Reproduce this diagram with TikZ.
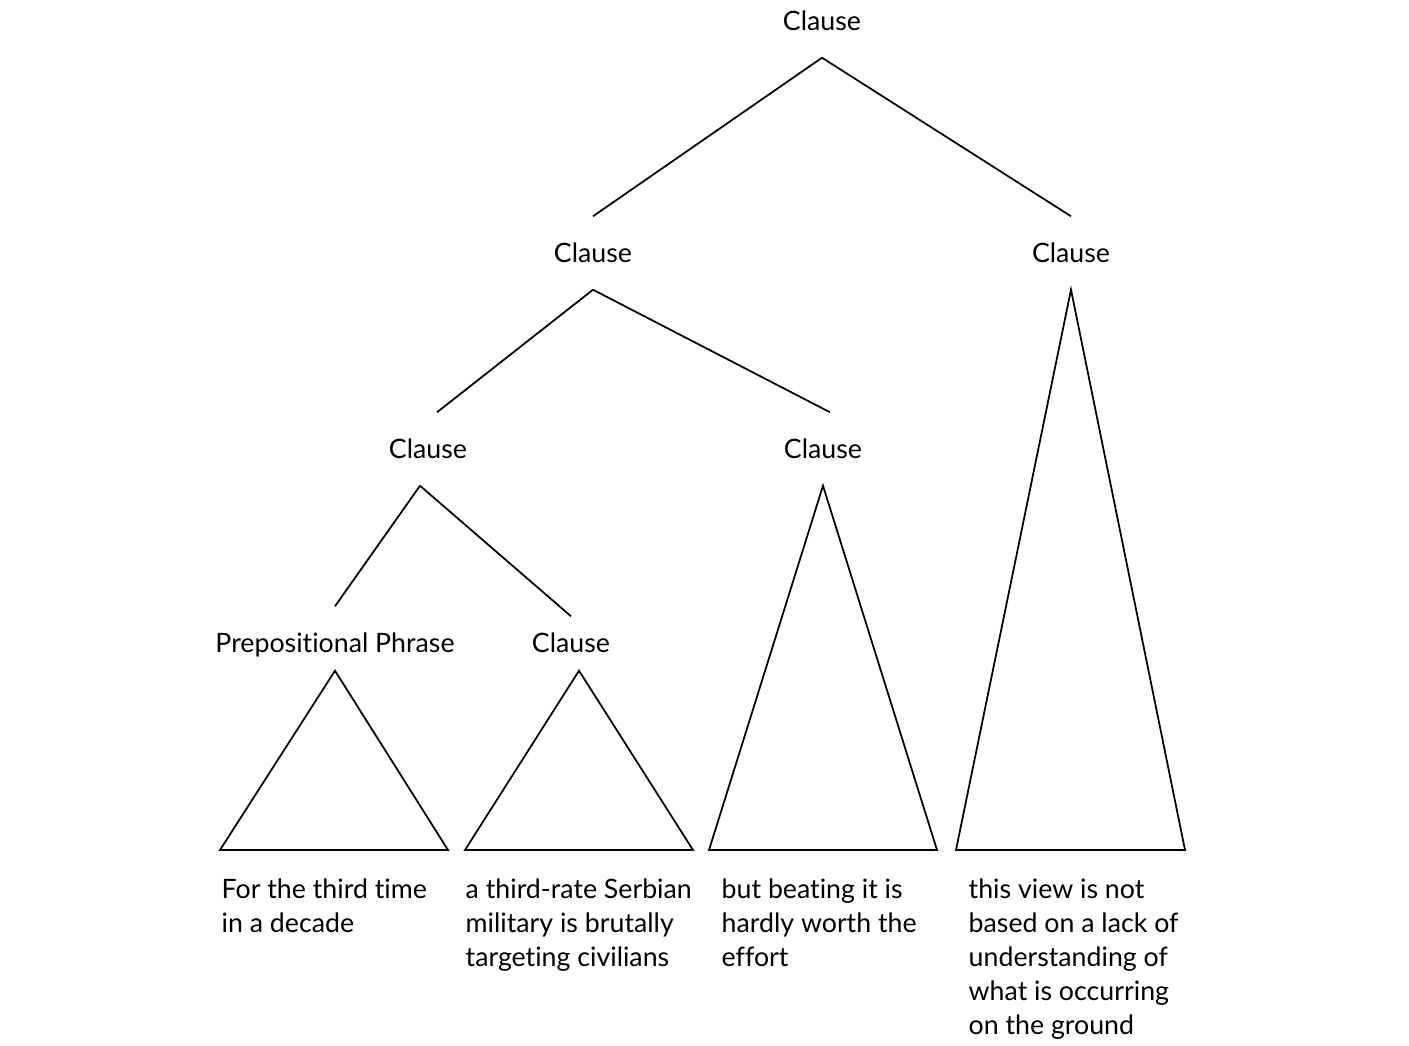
\documentclass[tikz,border=0pt]{standalone}
\usepackage{fontspec}
\setmainfont{Lato}[Ligatures=NoCommon]
\usepackage{xcolor}
\usetikzlibrary{positioning}

\begin{document}
\begin{tikzpicture}[x=0.01cm, y=-0.01cm,
  label/.style={minimum height=0.72cm, inner sep=0pt, text depth=0pt, font=\fontsize{7.6pt}{9.68pt}\selectfont},
  leaf/.style={anchor=north west, align=left, inner sep=0pt, font=\fontsize{7.6pt}{9.68pt}\selectfont},
  branch/.style={draw=black, line width=0.5pt}]
  \useasboundingbox (0,0) rectangle (1409,1046);
  \node[label] (top) at (822,21) {Clause};
  \node[label] (left) at (593,253) {Clause};
  \node[label] (right) at (1071,253) {Clause};
  \node[label] (inner) at (428,449) {Clause};
  \node[label] (mid) at (823,449) {Clause};
  \node[label] (prep) at (335,643) {Prepositional Phrase};
  \node[label] (sub) at (571,643) {Clause};
  \draw[branch] (top.south) -- (left.north);
  \draw[branch] (top.south) -- (right.north);
  \draw[branch] (left.south) -- ([xshift=0.09cm]inner.north);
  \draw[branch] (left.south) -- ([xshift=0.07cm]mid.north);
  \draw[branch] ([xshift=-0.08cm]inner.south) -- (prep.north);
  \draw[branch] ([xshift=-0.08cm]inner.south) -- ([yshift=-0.1cm]sub.north);
  % triangles
  \draw[branch] ([yshift=0.09cm]prep.south) -- (220,850) -- (448,850) -- cycle;
  \draw[branch] ([xshift=0.08cm,yshift=0.09cm]sub.south) -- (465,850) -- (693,850) -- cycle;
  \draw[branch] (mid.south) -- (709,850) -- (937,850) -- cycle;
  \draw[branch] (right.south) -- (956,850) -- (1185,850) -- cycle;
  \node[leaf] (leafA) at (221,878) {For the third time\\in a decade};
  \node[leaf] (leafB) at (465,878) {a third-rate Serbian\\military is brutally\\targeting civilians};
  \node[leaf] (leafC) at (721,878) {but beating it is\\hardly worth the\\effort};
  \node[leaf] (leafD) at (968,878) {this view is not\\based on a lack of\\understanding of\\what is occurring\\on the ground};
\end{tikzpicture}
\end{document}
